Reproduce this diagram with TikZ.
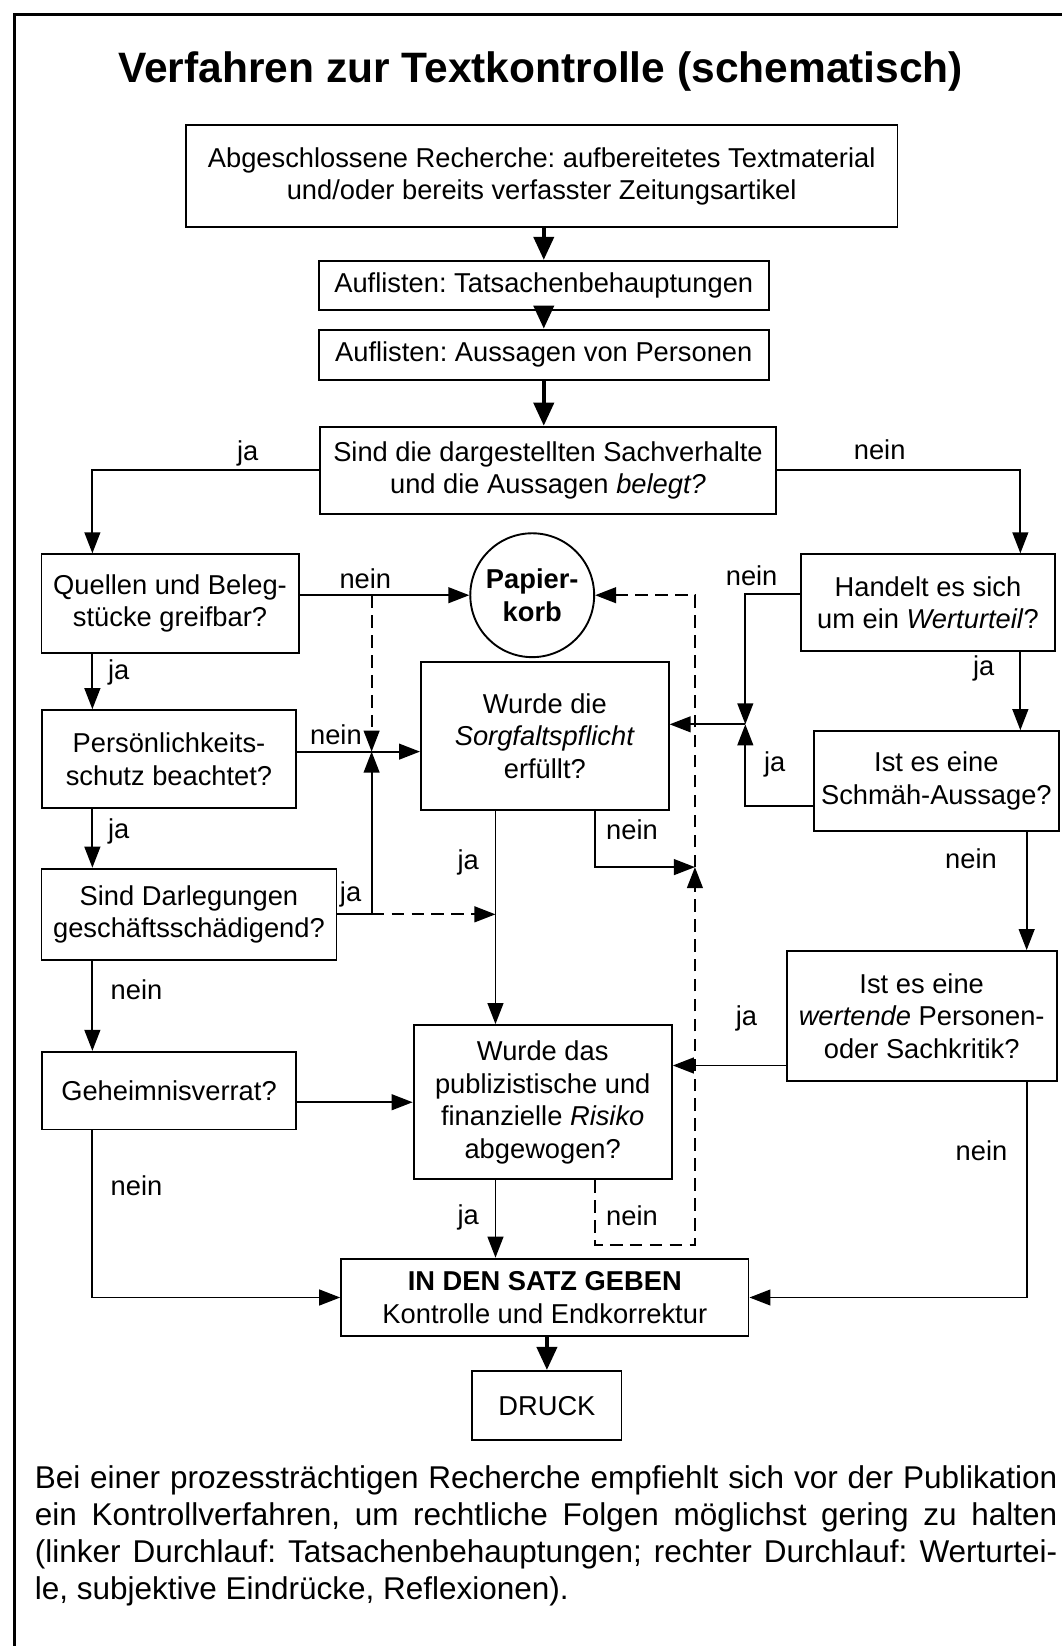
\documentclass[tikz,border=0pt]{standalone}
\usepackage{fontspec}
\setmainfont{Liberation Sans}
\usepackage{tikz}
\usetikzlibrary{calc}
\usetikzlibrary{arrows.meta}
\frenchspacing
\newcommand{\bxfont}{\fontsize{26}{31}\selectfont}
\newcommand{\parfont}{\fontsize{30}{35.3}\selectfont}

\begin{document}
\begin{tikzpicture}[x=1pt,y=-1pt,
            box/.style={draw,line width=1.8pt,align=center,inner sep=2pt,font=\bxfont},
            lab/.style={inner sep=0pt,font=\bxfont},
            arr/.style={line width=1.8pt,-{Triangle[length=20pt,width=15pt]}},
            fat/.style={line width=4pt,-{Triangle[length=22pt,width=19pt]}},
            dsh/.style={dash pattern=on 12pt off 7pt}]
            \useasboundingbox[fill=white] (0,0) rectangle (1012,1568);
            \draw[line width=2.5pt] (14,1568) -- (14,14) -- (1012,14);
            \node[font=\bfseries\fontsize{40.5}{46}\selectfont] (title) at (515,68) {Verfahren zur Textkontrolle (schematisch)};
            \coordinate (lx) at (88,0);
            \coordinate (rx) at (972,0);
            \coordinate (rx2) at (978,0);
            \coordinate (sx) at (472,0);
            \coordinate (nx) at (567,0);
            \coordinate (jl) at (354,716);
            \coordinate (jr) at (662,826);
            \coordinate (jh) at (710,690);
            \coordinate (kj) at (0,1015);
            \node[box,minimum width=678,minimum height=97] (rech) at (516,168) {Abgeschlossene Recherche: aufbereitetes Textmaterial\\und/oder bereits verfasster Zeitungsartikel};
            \node[box,minimum width=429,minimum height=47] (tats) at (518,272) {Auflisten: Tatsachenbehauptungen};
            \node[box,minimum width=429,minimum height=48] (auss) at (518,338) {Auflisten: Aussagen von Personen};
            \node[box,minimum width=435,minimum height=83] (beleg) at (522,448) {Sind die dargestellten Sachverhalte\\und die Aussagen \textit{belegt?}};
            \node[box,minimum width=245,minimum height=94] (quellen) at (162,575) {Quellen und Beleg-\\stücke greifbar?};
            \node[draw,circle,line width=1.8pt,minimum size=118,inner sep=0pt,align=center,font=\bxfont\bfseries] (papier) at (507,567) {Papier-\\korb};
            \node[box,minimum width=242,minimum height=93] (pers) at (161,723) {Persönlichkeits-\\schutz beachtet?};
            \node[box,minimum width=281,minimum height=87] (darl) at (180,871) {Sind Darlegungen\\geschäftsschädigend?};
            \node[box,minimum width=242,minimum height=74] (geheim) at (161,1039) {Geheimnisverrat?};
            \node[box,minimum width=236,minimum height=141] (sorg) at (519,701) {Wurde die\\\textit{Sorgfaltspflicht}\\erfüllt?};
            \node[box,minimum width=246,minimum height=147] (risiko) at (517,1050) {Wurde das\\publizistische und\\finanzielle \textit{Risiko}\\abgewogen?};
            \node[box,minimum width=388,minimum height=74] (satz) at (519,1236) {\textbf{IN DEN SATZ GEBEN}\\Kontrolle und Endkorrektur};
            \node[box,minimum width=142,minimum height=66] (druck) at (521,1339) {DRUCK};
            \node[box,minimum width=242,minimum height=92] (wert) at (884,574) {Handelt es sich\\um ein \textit{Werturteil}?};
            \node[box,minimum width=233,minimum height=95] (schmaeh) at (892,744) {Ist es eine\\Schmäh-Aussage?};
            \node[box,minimum width=257,minimum height=124] (kritik) at (878,968) {Ist es eine\\\textit{wertende} Personen-\\oder Sachkritik?};
            \draw[fat] (tats.north |- rech.south) -- (tats.north);
            \draw[fat] (tats) -- (auss);
            \draw[fat] (auss.south) -- (auss.south |- beleg.north);
            \draw[arr] (beleg.west) -| (quellen.north -| lx);
            \draw[arr] (beleg.east) -| (wert.north -| rx);
            \draw[arr] (quellen.east |- papier.west) -- (papier.west);
            \draw[arr,dsh] (jl |- papier.west) -- (jl);
            \draw[arr] (quellen.south -| lx) -- (pers.north -| lx);
            \draw[arr] (pers.east |- jl) -- (sorg.west |- jl);
            \draw[arr] (pers.south -| lx) -- (darl.north -| lx);
            \draw[arr] (darl.east) -| (jl);
            \draw[arr,dsh] (darl.east -| jl) -- (darl.east -| sx);
            \draw[arr] (darl.south -| lx) -- (geheim.north -| lx);
            \draw[arr] (geheim.east |- risiko.west) -- (risiko.west);
            \draw[arr] (geheim.south -| lx) |- (satz.west);
            \draw[arr] (sorg.south -| sx) -- (risiko.north -| sx);
            \draw[arr] (sorg.south -| nx) |- (jr);
            \draw[arr,dsh] (risiko.south -| nx) -- ++(0,62) -| (jr);
            \draw[arr,dsh] (jr) |- (papier.east);
            \draw[arr] (risiko.south -| sx) -- (satz.north -| sx);
            \draw[fat] (druck.north |- satz.south) -- (druck.north);
            \draw[arr] ($(wert.west)+(0,-8)$) -| (jh);
            \draw[arr] (jh) -- (sorg.east |- jh);
            \draw[arr] ($(schmaeh.west)+(0,24)$) -| (jh);
            \draw[arr] (wert.south -| rx) -- (schmaeh.north -| rx);
            \draw[arr] (schmaeh.south -| rx2) -- (kritik.north -| rx2);
            \draw[arr] (kritik.west |- kj) -- (risiko.east |- kj);
            \draw[arr] (kritik.south -| rx2) |- (satz.east);
            \node[lab] (l1) at (236,432) {ja};
            \node[lab] (l2) at (838,428) {nein};
            \node[lab] (l3) at (348,551) {nein};
            \node[lab] (l4) at (113,641) {ja};
            \node[lab] (l5) at (320,700) {nein};
            \node[lab] (l6) at (113,792) {ja};
            \node[lab] (l7) at (334,852) {ja};
            \node[lab] (l8) at (130,943) {nein};
            \node[lab] (l9) at (130,1130) {nein};
            \node[lab] (l10) at (446,822) {ja};
            \node[lab] (l11) at (602,790) {nein};
            \node[lab] (l12) at (446,1160) {ja};
            \node[lab] (l13) at (602,1158) {nein};
            \node[lab] (l14) at (716,548) {nein};
            \node[lab] (l15) at (937,637) {ja};
            \node[lab] (l16) at (738,728) {ja};
            \node[lab] (l17) at (925,818) {nein};
            \node[lab] (l18) at (711,970) {ja};
            \node[lab] (l19) at (935,1096) {nein};
            \node[anchor=north west,align=left,inner sep=0pt,font=\parfont] (txt) at (33,1396) {\makebox[974pt][s]{Bei einer prozessträchtigen Recherche empfiehlt sich vor der Publikation}\\\makebox[974pt][s]{ein Kontrollverfahren, um rechtliche Folgen möglichst gering zu halten}\\\makebox[974pt][s]{(linker Durchlauf: Tatsachenbehauptungen; rechter Durchlauf: Werturtei-}\\le, subjektive Eindrücke, Reflexionen).};
        \end{tikzpicture}
\end{document}
